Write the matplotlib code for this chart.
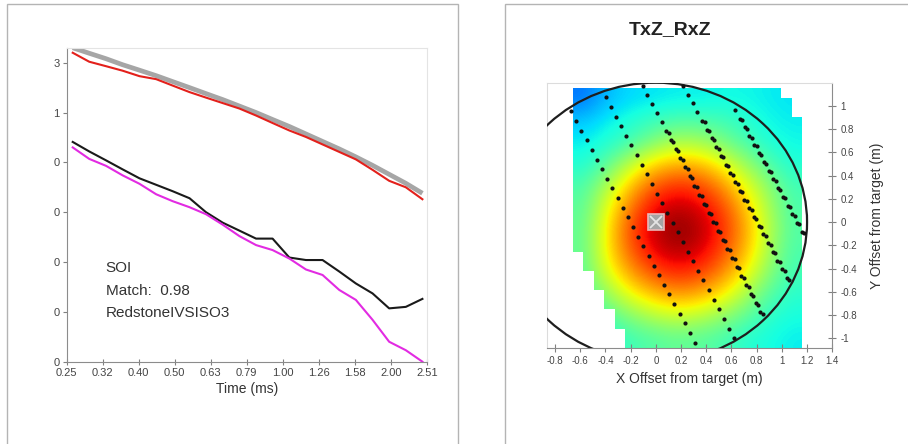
# Two panels: SOI decay curves (left) and TxZ_RxZ match map (right)

import numpy as np
import matplotlib
matplotlib.use("Agg")
import matplotlib.pyplot as plt
from matplotlib.patches import Circle, Rectangle
from matplotlib import transforms

plt.rcParams['font.family'] = ['Liberation Sans', 'DejaVu Sans']

# ---------------- left panel data ----------------

time_ms = [0.261, 0.290, 0.323, 0.359, 0.400, 0.445, 0.495, 0.551, 0.612, 0.681, 0.758,
           0.843, 0.937, 1.043, 1.160, 1.290, 1.435, 1.596, 1.776, 1.975, 2.197, 2.443]

curve_gray = [6.30, 6.19, 6.08, 5.96, 5.85, 5.74, 5.62, 5.50, 5.38, 5.26, 5.13,
              5.00, 4.86, 4.72, 4.57, 4.42, 4.27, 4.11, 3.94, 3.76, 3.58, 3.38]
curve_red = [6.20, 6.02, 5.93, 5.84, 5.73, 5.67, 5.54, 5.41, 5.30, 5.19, 5.08,
             4.94, 4.79, 4.64, 4.51, 4.36, 4.21, 4.06, 3.85, 3.63, 3.50, 3.26]
curve_black = [4.41, 4.22, 4.04, 3.86, 3.68, 3.55, 3.42, 3.28, 3.00, 2.79, 2.63,
               2.47, 2.47, 2.09, 2.04, 2.04, 1.81, 1.57, 1.37, 1.07, 1.10, 1.26]
curve_magenta = [4.30, 4.07, 3.93, 3.74, 3.57, 3.36, 3.22, 3.10, 2.96, 2.75, 2.52,
                 2.34, 2.24, 2.07, 1.85, 1.74, 1.44, 1.24, 0.84, 0.40, 0.23, 0.00]

time_ticks = [0.2512, 0.3162, 0.3981, 0.5012, 0.6310, 0.7943, 1.0, 1.2589, 1.5849, 1.9953, 2.5119]
time_tick_labels = ['0.25', '0.32', '0.40', '0.50', '0.63', '0.79', '1.00', '1.26', '1.58', '2.00', '2.51']
soi_ticks = [0, 1, 2, 3, 4, 5, 6]
soi_tick_labels = ['0', '0', '0', '0', '0', '1', '3']

match_lines = ['SOI', 'Match:  0.98', 'RedstoneIVSISO3']

# ---------------- right panel data ----------------

# match value on a coarse grid (rows top -> bottom)
heat = np.array([
    [0.24, 0.31, 0.34, 0.35, 0.36, 0.36, 0.37, 0.37, 0.36, 0.35],
    [0.32, 0.36, 0.39, 0.42, 0.44, 0.44, 0.43, 0.40, 0.37, 0.36],
    [0.36, 0.39, 0.43, 0.50, 0.56, 0.55, 0.50, 0.44, 0.39, 0.37],
    [0.39, 0.46, 0.58, 0.68, 0.72, 0.71, 0.64, 0.54, 0.45, 0.39],
    [0.44, 0.56, 0.70, 0.81, 0.86, 0.84, 0.76, 0.64, 0.52, 0.43],
    [0.46, 0.63, 0.78, 0.90, 0.95, 0.92, 0.84, 0.71, 0.56, 0.44],
    [0.47, 0.66, 0.83, 0.94, 0.99, 0.96, 0.87, 0.74, 0.58, 0.45],
    [0.47, 0.66, 0.81, 0.91, 0.96, 0.93, 0.84, 0.72, 0.56, 0.44],
    [0.46, 0.62, 0.74, 0.83, 0.87, 0.85, 0.77, 0.66, 0.52, 0.43],
    [0.44, 0.53, 0.64, 0.71, 0.75, 0.73, 0.67, 0.56, 0.46, 0.40],
    [0.40, 0.45, 0.51, 0.57, 0.60, 0.58, 0.53, 0.47, 0.41, 0.38],
    [0.37, 0.39, 0.43, 0.45, 0.47, 0.46, 0.44, 0.40, 0.38, 0.36],
])
grid_x = [-0.657, 1.158]
grid_y = [-1.081, 1.149]

# covered cells: rows filled per column (left side) and columns filled per row (top)
col_rows = [17, 19, 21, 23, 25] + [27] * 17
row_cols = [20, 21, 21] + [22] * 24

# survey lines (dots)
line1_x = [-0.673, -0.632, -0.591, -0.550, -0.509, -0.468, -0.427, -0.386, -0.345, -0.304, -0.263, -0.222, -0.181,
           -0.140, -0.099, -0.058, -0.017, 0.024, 0.065, 0.106, 0.147, 0.188, 0.229, 0.270, 0.311]
line1_y = [0.954, 0.871, 0.788, 0.705, 0.622, 0.539, 0.456, 0.373, 0.290, 0.207, 0.124, 0.041, -0.042,
           -0.125, -0.208, -0.291, -0.374, -0.457, -0.540, -0.623, -0.706, -0.789, -0.872, -0.955, -1.038]
line2_x = [-0.398, -0.357, -0.316, -0.276, -0.235, -0.194, -0.153, -0.112, -0.071, -0.031, 0.010, 0.051, 0.092,
           0.133, 0.174, 0.214, 0.255, 0.296, 0.337, 0.378, 0.419, 0.459, 0.500, 0.541, 0.582, 0.623]
line2_y = [1.075, 0.992, 0.909, 0.826, 0.743, 0.660, 0.577, 0.494, 0.411, 0.328, 0.245, 0.162, 0.079,
           -0.004, -0.087, -0.170, -0.253, -0.336, -0.419, -0.502, -0.585, -0.668, -0.751, -0.834, -0.917, -1.000]
line3_x = [-0.104, -0.067, -0.029, 0.008, 0.045, 0.083, 0.120, 0.157, 0.194, 0.232, 0.269, 0.306, 0.344,
           0.381, 0.418, 0.456, 0.493, 0.530, 0.567, 0.605, 0.642, 0.679, 0.717, 0.754, 0.791, 0.828]
line3_y = [1.172, 1.094, 1.016, 0.938, 0.860, 0.783, 0.705, 0.627, 0.549, 0.471, 0.393, 0.315, 0.237,
           0.159, 0.081, 0.004, -0.074, -0.152, -0.230, -0.308, -0.386, -0.464, -0.542, -0.620, -0.698, -0.775]
line4_x = [0.218, 0.255, 0.293, 0.330, 0.367, 0.405, 0.442, 0.479, 0.517, 0.554, 0.591, 0.629,
           0.666, 0.703, 0.741, 0.778, 0.815, 0.853, 0.890, 0.927, 0.965, 1.002, 1.039]
line4_y = [1.172, 1.097, 1.022, 0.946, 0.871, 0.796, 0.721, 0.646, 0.570, 0.495, 0.420, 0.345,
           0.270, 0.194, 0.119, 0.044, -0.031, -0.106, -0.182, -0.257, -0.332, -0.407, -0.483]
line5_x = [0.629, 0.667, 0.705, 0.742, 0.780, 0.818, 0.856, 0.894, 0.931, 0.969, 1.007, 1.045, 1.082, 1.120, 1.158]
line5_y = [0.965, 0.890, 0.815, 0.741, 0.666, 0.591, 0.516, 0.442, 0.367, 0.292, 0.217, 0.143, 0.068, -0.007, -0.082]

# where the doubled dots start on lines 3, 4, 5
pair_start = [5, 4, 1]

target_x = [0.0]
target_y = [0.0]
search_radius = 1.2

x_ticks = [-0.8, -0.6, -0.4, -0.2, 0, 0.2, 0.4, 0.6, 0.8, 1, 1.2, 1.4]
x_tick_labels = ['-0.8', '-0.6', '-0.4', '-0.2', '0', '0.2', '0.4', '0.6', '0.8', '1', '1.2', '1.4']
y_ticks = [1, 0.8, 0.6, 0.4, 0.2, 0, -0.2, -0.4, -0.6, -0.8, -1]
y_tick_labels = ['1', '0.8', '0.6', '0.4', '0.2', '0', '-0.2', '-0.4', '-0.6', '-0.8', '-1']

# ---------------- figure ----------------

fig = plt.figure(figsize=(9.08, 4.44), dpi=100)

# panel frames
fig.add_artist(Rectangle((7 / 908, -0.01), 451 / 908, 1 - 4 / 444 + 0.01, transform=fig.transFigure,
                         fill=False, ec='#b4b4b4', lw=1))
fig.add_artist(Rectangle((505 / 908, -0.01), 0.5, 1 - 4 / 444 + 0.01, transform=fig.transFigure,
                         fill=False, ec='#b4b4b4', lw=1))

# left plot
ax1 = fig.add_axes([0.0735, 0.1854, 0.3965, 0.7059])
ax1.plot(time_ms, curve_gray, color='#a6a6a6', lw=3.4, solid_capstyle='butt')
ax1.plot(time_ms, curve_red, color='#e3201b', lw=1.5)
ax1.plot(time_ms, curve_black, color='#1a1a1a', lw=1.5)
ax1.plot(time_ms, curve_magenta, color='#e22be2', lw=1.5)
ax1.set_xscale('log')
ax1.set_xlim(time_ticks[0], time_ticks[-1])
ax1.set_ylim(0, 6.29)
ax1.set_xticks(time_ticks)
ax1.set_xticklabels(time_tick_labels)
ax1.xaxis.set_minor_locator(matplotlib.ticker.NullLocator())
ax1.set_yticks(soi_ticks)
ax1.set_yticklabels(soi_tick_labels)
ax1.tick_params(axis='x', direction='inout', length=5, width=0.8, color='#808080',
                labelsize=8, labelcolor='#444444', pad=2)
ax1.tick_params(axis='y', direction='out', length=3, width=0.8, color='#808080',
                labelsize=8, labelcolor='#444444', pad=2)
ax1.set_xlabel('Time (ms)', fontsize=10, color='#333333', labelpad=3)
for side in ['top', 'right']:
    ax1.spines[side].set_color('#e4e4e4')
for side in ['left', 'bottom']:
    ax1.spines[side].set_color('#8c8c8c')
for i, txt in enumerate(match_lines):
    ax1.text(0.108, 0.298 - i * 0.072, txt, transform=ax1.transAxes, fontsize=11,
             color='#333333', va='center', ha='left')

# right plot
ax2 = fig.add_axes([0.6021, 0.2169, 0.3145, 0.5955])
ax2.imshow(heat, cmap='jet', vmin=0, vmax=1, interpolation='bicubic',
           extent=(grid_x[0], grid_x[1], grid_y[0], grid_y[1]), aspect='auto', zorder=1)

n_rows = len(row_cols)
n_cols = len(col_rows)
cover = np.zeros((n_rows, n_cols, 4))
for r in range(n_rows):
    for c in range(n_cols):
        if r >= col_rows[c] or c >= row_cols[r]:
            cover[r, c] = [1, 1, 1, 1]
ax2.imshow(cover, interpolation='nearest', extent=(grid_x[0], grid_x[1], grid_y[0], grid_y[1]),
           aspect='auto', zorder=2)

ax2.add_patch(Circle((target_x[0], target_y[0]), search_radius, fill=False, ec='#1e1e1e', lw=1.6, zorder=3))

pair_shift = transforms.offset_copy(ax2.transData, fig=fig, x=2.5, y=-1.5, units='dots')
lines = [(line1_x, line1_y), (line2_x, line2_y), (line3_x, line3_y), (line4_x, line4_y), (line5_x, line5_y)]
for lx, ly in lines:
    ax2.plot(lx, ly, 'o', color='#111111', ms=3.0, mec='none', zorder=4)
for (lx, ly), k in zip(lines[2:], pair_start):
    ax2.plot(lx[k:], ly[k:], 'o', color='#111111', ms=3.0, mec='none', zorder=4, transform=pair_shift)

ax2.plot(target_x, target_y, 's', ms=11, mfc='#a4a4a4', mec='#eab8b8', mew=1.2, zorder=5)
ax2.plot(target_x, target_y, 'x', ms=8, color='#e4e4e4', mew=1.3, zorder=6)

ax2.set_xlim(-0.866, 1.4)
ax2.set_ylim(-1.081, 1.195)
ax2.set_xticks(x_ticks)
ax2.set_xticklabels(x_tick_labels)
ax2.set_yticks(y_ticks)
ax2.set_yticklabels(y_tick_labels)
ax2.yaxis.tick_right()
ax2.yaxis.set_label_position('right')
ax2.tick_params(direction='inout', length=6, width=0.8, color='#808080',
                labelsize=7, labelcolor='#444444', pad=3)
ax2.set_xlabel('X Offset from target (m)', fontsize=10, color='#333333', labelpad=4)
ax2.set_ylabel('Y Offset from target (m)', fontsize=10, color='#333333', labelpad=9)
for side in ['top', 'left']:
    ax2.spines[side].set_color('#dcdcdc')
for side in ['right', 'bottom']:
    ax2.spines[side].set_color('#8c8c8c')

fig.text(0.7379, 0.9324, 'TxZ_RxZ', fontsize=14, fontweight='bold', color='#222222',
         ha='center', va='center')

fig.savefig('out.png', dpi=100)
